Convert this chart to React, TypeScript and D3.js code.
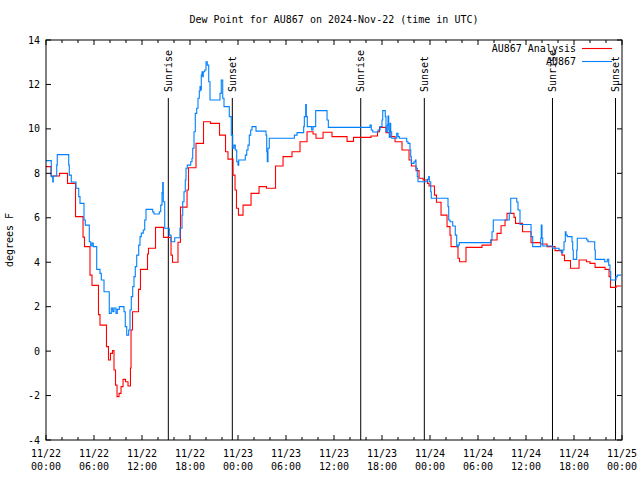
import React from "react";
import * as d3 from "d3";

const TITLE = "Dew Point for AU867 on 2024-Nov-22 (time in UTC)";
const Y_LABEL = "degrees F";
const SERIES_NAMES = ["AU867 Analysis", "AU867"];
const SERIES_COLORS = ["#ff0000", "#0080ff"];

const xTickHours = [0, 6, 12, 18, 24, 30, 36, 42, 48, 54, 60, 66, 72];
const xTickDates = ["11/22", "11/22", "11/22", "11/22", "11/23", "11/23", "11/23", "11/23", "11/24", "11/24", "11/24", "11/24", "11/25"];
const xTickTimes = ["00:00", "06:00", "12:00", "18:00", "00:00", "06:00", "12:00", "18:00", "00:00", "06:00", "12:00", "18:00", "00:00"];
const yTicks = [-4, -2, 0, 2, 4, 6, 8, 10, 12, 14];

const sunHours = [15.29, 23.29, 39.34, 47.29, 63.31, 71.19];
const sunLabels = ["Sunrise", "Sunset", "Sunrise", "Sunset", "Sunrise", "Sunset"];

// [hour since 11/22 00:00 UTC, dew point F]
const analysis: [number, number][] = [
  [0, 8.3], [0.63, 7.88], [1.69, 8.0], [2.69, 7.55], [3.69, 6.05], [4.63, 5.13], [4.81, 4.7],
  [5.5, 3.42], [5.75, 2.96], [6.56, 1.64], [6.75, 1.17], [7.56, 0.2], [7.81, -0.4], [8.06, -0.1],
  [8.31, 0.02], [8.5, -0.85], [8.69, -1.53], [8.88, -2.05], [9.13, -1.9], [9.38, -1.6], [9.63, -1.27],
  [9.94, -1.38], [10.25, -1.57], [10.56, -0.76], [10.63, 0.95], [10.81, 1.77], [11.56, 2.78],
  [11.81, 3.68], [12.69, 4.37], [12.81, 4.63], [13.69, 5.57], [14.69, 5.12], [15.63, 4.32],
  [15.81, 4.0], [16.5, 4.9], [16.81, 6.48], [17.63, 7.25], [17.81, 8.25], [18.75, 9.35],
  [19.69, 10.32], [20.56, 10.25], [21.69, 9.72], [22.44, 8.97], [22.75, 8.64], [23.38, 7.92],
  [23.63, 7.25], [23.81, 6.43], [24.06, 6.12], [24.63, 6.57], [25.63, 7.1], [26.63, 7.4],
  [27.56, 7.33], [28.69, 8.33], [29.63, 8.75], [30.75, 8.97], [31.75, 9.42], [32.63, 9.87],
  [33.38, 9.77], [33.75, 9.58], [34.63, 9.85], [35.75, 9.65], [37.63, 9.44], [38.44, 9.62],
  [40.63, 9.68], [41.44, 9.87], [41.69, 10.07], [42.5, 9.83], [43.0, 9.65], [43.63, 9.42],
  [44.5, 9.05], [45.38, 8.6], [45.69, 8.33], [46.25, 8.12], [46.63, 7.78], [47.13, 7.7],
  [47.69, 7.55], [47.88, 7.43], [48.56, 7.02], [48.81, 6.7], [49.38, 6.12], [50.13, 5.6],
  [50.5, 5.22], [50.63, 4.7], [51.5, 4.18], [51.69, 4.02], [52.5, 4.67], [54.5, 4.77],
  [55.63, 5.0], [56.38, 5.3], [56.88, 5.64], [57.38, 5.9], [57.63, 6.2], [58.5, 6.02],
  [58.69, 5.75], [59.56, 5.37], [60.63, 4.88], [61.81, 4.82], [62.63, 4.7], [63.63, 4.52],
  [64.5, 4.32], [64.81, 4.07], [65.56, 3.73], [66.63, 4.1], [67.56, 4.02], [68.0, 3.95],
  [68.63, 3.77], [69.88, 3.68], [70.38, 3.35], [70.56, 2.87], [71.25, 2.93], [71.9, 2.93],
];

const station: [number, number][] = [
  [0, 8.57], [0.66, 7.85], [0.84, 7.61], [0.91, 7.88], [1.34, 8.37], [1.41, 8.84], [2.84, 8.37],
  [2.91, 7.92], [3.16, 7.61], [3.75, 7.33], [4.09, 6.95], [4.25, 6.65], [4.75, 5.9], [4.91, 5.67],
  [5.41, 4.92], [5.59, 4.73], [5.75, 4.86], [5.91, 4.7], [6.34, 3.68], [6.75, 3.5], [6.91, 3.2],
  [7.25, 2.67], [7.91, 1.7], [8.16, 1.94], [8.34, 1.77], [8.5, 1.94], [8.75, 1.7], [8.91, 1.88],
  [9.16, 2.0], [9.75, 1.77], [9.91, 1.1], [10.09, 0.72], [10.34, 0.95], [10.5, 1.85], [10.66, 2.45],
  [10.84, 2.9], [11.0, 3.35], [11.16, 3.8], [11.34, 4.32], [11.59, 4.77], [11.75, 5.15],
  [11.91, 5.31], [12.16, 5.45], [12.34, 5.9], [12.5, 6.38], [13.34, 6.26], [13.5, 6.17],
  [14.16, 6.27], [14.34, 6.57], [14.5, 7.13], [14.59, 7.58], [14.66, 6.72], [14.84, 5.53],
  [15.41, 5.22], [15.63, 4.92], [16.09, 5.1], [16.75, 5.53], [17.0, 6.12], [17.09, 6.72],
  [17.25, 7.17], [17.41, 7.7], [17.5, 8.23], [17.66, 8.37], [18.09, 8.52], [18.25, 8.68],
  [18.34, 9.13], [18.5, 9.87], [18.66, 10.7], [18.84, 10.93], [19.0, 11.38], [19.16, 11.7],
  [19.25, 11.9], [19.34, 11.75], [19.41, 12.42], [19.5, 12.57], [19.59, 12.35], [19.66, 12.57],
  [19.84, 12.65], [20.0, 13.02], [20.16, 12.87], [20.34, 12.12], [20.5, 11.3], [21.75, 11.6],
  [21.91, 12.2], [22.09, 11.38], [22.25, 11.0], [22.91, 10.55], [23.16, 9.72], [23.34, 9.13],
  [23.5, 9.27], [23.66, 9.05], [23.84, 8.52], [24.0, 8.37], [24.09, 8.6], [24.91, 8.82],
  [25.09, 9.05], [25.25, 9.27], [25.41, 9.72], [25.59, 9.95], [25.75, 10.1], [26.25, 9.9],
  [27.5, 9.72], [27.59, 8.97], [27.66, 8.52], [27.75, 9.13], [27.91, 9.58], [31.04, 9.72],
  [31.38, 9.83], [32.21, 10.1], [32.29, 10.55], [32.46, 11.09], [32.54, 10.55], [32.66, 10.1],
  [33.21, 9.95], [33.38, 10.1], [33.71, 10.82], [35.13, 10.4], [35.29, 10.07], [40.5, 10.17],
  [40.66, 9.95], [40.84, 9.86], [41.5, 9.95], [41.75, 10.1], [42.0, 10.4], [42.09, 10.82],
  [42.41, 10.55], [42.5, 9.87], [42.66, 10.17], [42.75, 10.58], [42.84, 9.95], [42.91, 9.62],
  [43.0, 10.25], [43.09, 9.87], [43.21, 9.58], [43.84, 9.8], [44.0, 9.65], [44.16, 9.58],
  [45.09, 9.42], [45.25, 9.35], [45.5, 9.05], [45.59, 8.75], [45.66, 8.45], [46.0, 8.52],
  [46.16, 8.6], [46.25, 8.23], [46.41, 7.85], [46.5, 7.62], [47.66, 7.73], [47.84, 7.85],
  [47.91, 7.62], [48.09, 7.17], [48.16, 6.88], [50.25, 6.5], [50.34, 5.9], [50.5, 5.82],
  [50.84, 5.63], [51.16, 5.22], [51.34, 4.7], [51.5, 4.77], [51.66, 4.88], [55.59, 5.0],
  [55.75, 5.37], [55.91, 5.9], [57.91, 6.2], [58.09, 6.88], [58.84, 6.71], [59.0, 6.35],
  [59.25, 5.7], [60.63, 5.15], [60.84, 4.7], [61.84, 5.08], [61.91, 5.67], [62.0, 5.09],
  [62.09, 4.73], [63.34, 4.63], [64.13, 4.55], [64.41, 4.43], [64.59, 4.55], [64.75, 4.92],
  [64.91, 5.37], [65.0, 5.22], [65.16, 5.15], [65.75, 4.92], [65.84, 4.55], [65.91, 4.13],
  [66.34, 4.55], [66.41, 5.08], [67.59, 5.0], [67.75, 4.92], [68.59, 4.55], [68.66, 4.13],
  [69.84, 4.02], [70.16, 4.13], [70.34, 3.87], [70.5, 3.57], [70.59, 3.2], [71.25, 3.35],
  [71.41, 3.42], [71.9, 3.42],
];

const W = 640;
const H = 480;
const M = { left: 46, right: 622, top: 40, bottom: 440 };
const FONT = "'DejaVu Sans Mono', 'Liberation Mono', monospace";

export default function App() {
  const x = d3.scaleLinear().domain([0, 72]).range([M.left, M.right]);
  const y = d3.scaleLinear().domain([-4, 14]).range([M.bottom, M.top]);
  const line = d3
    .line<[number, number]>()
    .x((d) => x(d[0]))
    .y((d) => y(d[1]))
    .curve(d3.curveStepAfter);

  const minorHours = d3.range(0, 73, 2).filter((h) => h % 6 !== 0);
  const series = [analysis, station];

  return (
    <svg
      width={W}
      height={H}
      style={{ position: "absolute", left: 0, top: 0, background: "#fff" }}
      fontFamily={FONT}
      fontSize={10}
    >
      <rect x={0} y={0} width={W} height={H} fill="#fff" />
      <text x={(M.left + M.right) / 2} y={23} textAnchor="middle" fill="#000">
        {TITLE}
      </text>

      {/* sunrise / sunset markers */}
      {sunHours.map((h, i) => (
        <g key={"sun" + i}>
          <line x1={x(h)} x2={x(h)} y1={98} y2={M.bottom} stroke="#000" strokeWidth={1} />
          <text
            transform={`translate(${x(h) + 3.5},92) rotate(-90)`}
            textAnchor="start"
            fill="#000"
          >
            {sunLabels[i]}
          </text>
        </g>
      ))}

      {/* data */}
      {series.map((s, i) => (
        <path
          key={"s" + i}
          d={line(s) || ""}
          fill="none"
          stroke={SERIES_COLORS[i]}
          strokeWidth={1.1}
        />
      ))}

      {/* border */}
      <rect
        x={M.left}
        y={M.top}
        width={M.right - M.left}
        height={M.bottom - M.top}
        fill="none"
        stroke="#000"
        strokeWidth={1}
      />

      {/* y ticks */}
      {yTicks.map((t) => (
        <g key={"y" + t}>
          <line x1={M.left} x2={M.left + 5} y1={y(t)} y2={y(t)} stroke="#000" />
          <line x1={M.right} x2={M.right - 5} y1={y(t)} y2={y(t)} stroke="#000" />
          <text x={M.left - 6} y={y(t) + 3.5} textAnchor="end" fill="#000">
            {String(t)}
          </text>
        </g>
      ))}

      {/* x ticks */}
      {xTickHours.map((h, i) => (
        <g key={"x" + h}>
          <line x1={x(h)} x2={x(h)} y1={M.bottom} y2={M.bottom - 5} stroke="#000" />
          <line x1={x(h)} x2={x(h)} y1={M.top} y2={M.top + 5} stroke="#000" />
          <text x={x(h)} y={457} textAnchor="middle" fill="#000">
            {xTickDates[i]}
          </text>
          <text x={x(h)} y={470} textAnchor="middle" fill="#000">
            {xTickTimes[i]}
          </text>
        </g>
      ))}
      {minorHours.map((h) => (
        <g key={"m" + h}>
          <line x1={x(h)} x2={x(h)} y1={M.bottom} y2={M.bottom - 3} stroke="#000" />
          <line x1={x(h)} x2={x(h)} y1={M.top} y2={M.top + 3} stroke="#000" />
        </g>
      ))}

      {/* y label */}
      <text
        transform={`translate(13,240) rotate(-90)`}
        textAnchor="middle"
        fill="#000"
      >
        {Y_LABEL}
      </text>

      {/* legend */}
      {SERIES_NAMES.map((n, i) => (
        <g key={"leg" + i}>
          <text x={576} y={52 + i * 13} textAnchor="end" fill="#000">
            {n}
          </text>
          <line
            x1={582}
            x2={612}
            y1={48.5 + i * 13}
            y2={48.5 + i * 13}
            stroke={SERIES_COLORS[i]}
            strokeWidth={1.1}
          />
        </g>
      ))}
    </svg>
  );
}
